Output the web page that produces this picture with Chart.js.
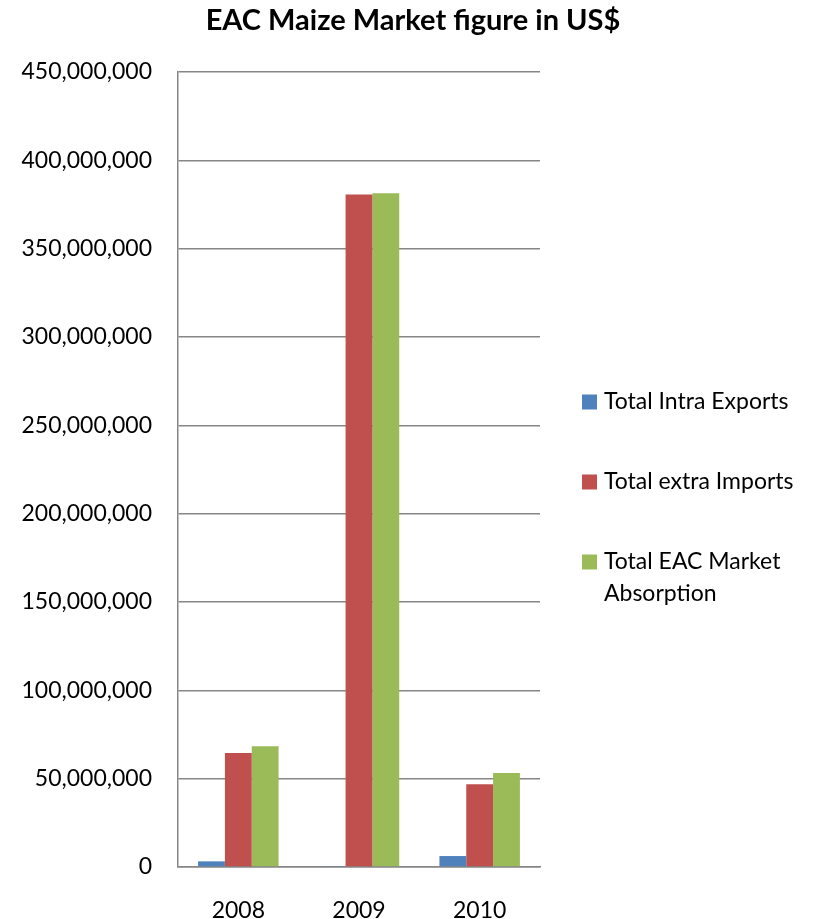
<!DOCTYPE html>
<html>
<head>
<meta charset="utf-8">
<script src="https://cdn.jsdelivr.net/npm/chart.js@4/dist/chart.umd.min.js"></script>
<style>
  html, body { margin: 0; padding: 0; background: #ffffff; }
  canvas { display: block; }
</style>
</head>
<body>
<canvas id="c" width="824" height="919"></canvas>
<script>
const chartTitle = 'EAC Maize Market figure in US$';
const years = ['2008', '2009', '2010'];
const seriesNames = ['Total Intra Exports', 'Total extra Imports', 'Total EAC Market Absorption'];
const intraExports = [3200000, 500000, 6200000];
const extraImports = [64500000, 380700000, 46800000];
const marketAbsorption = [68300000, 381300000, 53200000];
const seriesColors = ['#4F81BD', '#C0504D', '#9BBB59'];
const yMin = 0, yMax = 450000000, yStep = 50000000;

const FONT = 'Lato, "Open Sans", sans-serif';

const overlayPlugin = {
  id: 'overlay',
  afterDraw(chart) {
    const ctx = chart.ctx;
    ctx.save();
    // Title
    ctx.fillStyle = '#000000';
    ctx.font = 'bold 29px ' + FONT;
    ctx.textAlign = 'center';
    ctx.textBaseline = 'alphabetic';
    ctx.fillText(chartTitle, 413, 30);
    // Legend
    ctx.font = '23px ' + FONT;
    ctx.textAlign = 'left';
    ctx.textBaseline = 'middle';
    const x0 = 582, box = 15, tx = 604, maxW = 215;
    const rowYs = [402, 482, 562];
    chart.data.datasets.forEach((ds, i) => {
      const y = rowYs[i];
      ctx.fillStyle = ds.backgroundColor;
      ctx.fillRect(x0, y - box / 2, box, box);
      ctx.fillStyle = '#000000';
      const words = ds.label.split(' ');
      const lines = [];
      let cur = '';
      words.forEach(w => {
        const test = cur ? cur + ' ' + w : w;
        if (ctx.measureText(test).width > maxW && cur) { lines.push(cur); cur = w; }
        else cur = test;
      });
      if (cur) lines.push(cur);
      lines.forEach((ln, k) => ctx.fillText(ln, tx, y + k * 31.6));
    });
    ctx.restore();
  }
};

const datasets = [intraExports, extraImports, marketAbsorption].map((vals, i) => ({
  label: seriesNames[i],
  data: vals,
  backgroundColor: seriesColors[i],
  borderWidth: 0,
  barPercentage: 1.0,
  categoryPercentage: 0.667
}));

new Chart(document.getElementById('c'), {
  type: 'bar',
  data: { labels: years, datasets },
  options: {
    responsive: false,
    animation: false,
    devicePixelRatio: 1,
    layout: { padding: { top: 72, right: 284, bottom: 0, left: 0 } },
    plugins: {
      legend: { display: false },
      title: { display: false },
      tooltip: { enabled: false }
    },
    scales: {
      x: {
        grid: { display: false, drawTicks: false },
        border: { display: true, color: '#868686', width: 1.5 },
        ticks: { color: '#000000', font: { family: FONT, size: 23 }, padding: 30 },
        afterFit(scale) { scale.height = 52; }
      },
      y: {
        min: yMin, max: yMax,
        grid: { color: '#868686', lineWidth: 1.5, drawTicks: false },
        border: { display: true, color: '#868686', width: 1.5 },
        ticks: {
          stepSize: yStep,
          color: '#000000',
          font: { family: FONT, size: 23 },
          padding: 26,
          callback: v => Number(v).toLocaleString('en-US')
        },
        afterFit(scale) { scale.width = 178; }
      }
    }
  },
  plugins: [overlayPlugin]
});
</script>
</body>
</html>
